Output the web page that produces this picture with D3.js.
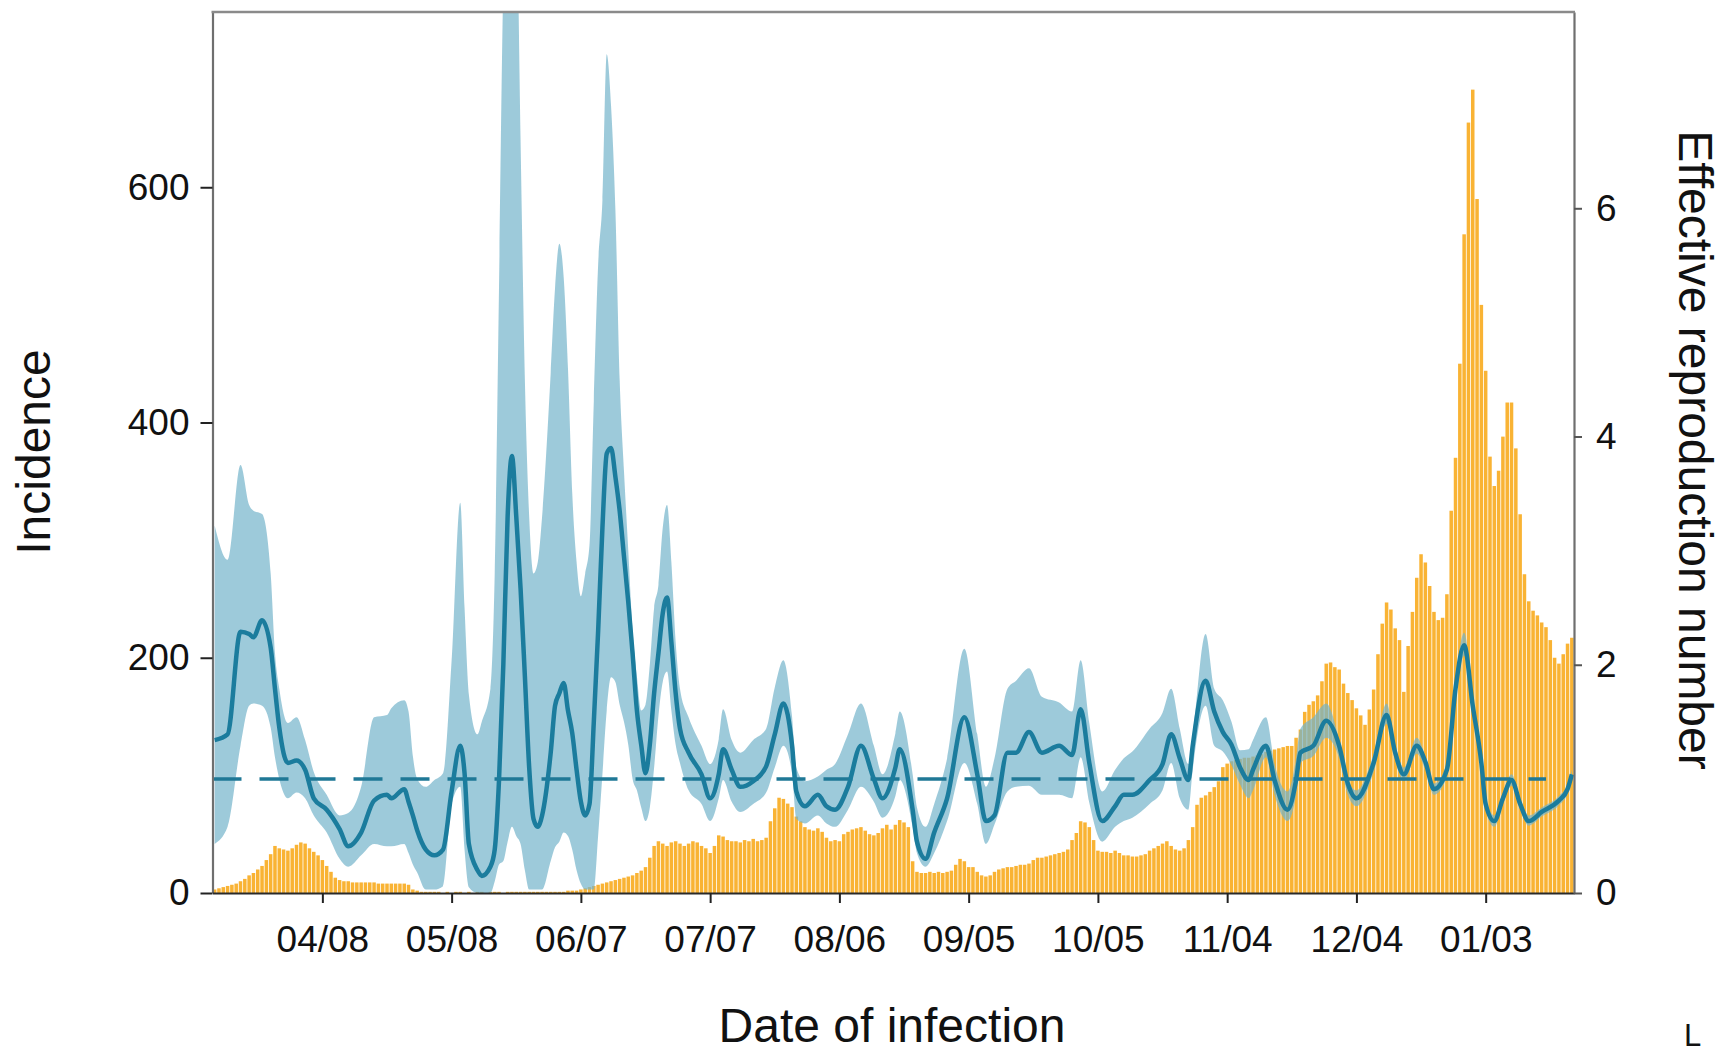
<!DOCTYPE html>
<html><head><meta charset="utf-8">
<script src="https://cdn.jsdelivr.net/npm/d3@7"></script>
<style>
html,body{margin:0;padding:0;background:#fff;}
svg{display:block;font-family:"Liberation Sans",Arial,Helvetica,sans-serif;}
</style></head><body>
<svg id="chart" width="1721" height="1055"></svg>
<script>
// ---------- data ----------
const startDate = "2020-03-14"; // first bar (day 0)
const incidence = [
 3,4,5,6,7,8,10,12,15,17,
 20,23,28,33,40,38,37,36,38,41,
 43,42,38,35,32,28,23,18,13,11,
 10,10,9,9,9,9,9,9,8,8,
 8,8,8,8,8,7,3,2,1,1,
 1,1,1,0,1,0,1,1,0,1,
 0,1,1,0,1,1,1,0,1,1,
 1,1,1,1,1,1,1,1,1,1,
 1,1,2,2,2,3,4,5,6,7,
 8,9,10,11,12,13,14,15,17,19,
 22,30,40,44,42,40,43,44,42,40,
 42,44,43,40,38,34,40,49,48,45,
 44,44,43,45,44,46,44,45,47,61,
 72,81,80,76,73,65,61,56,54,53,
 55,52,47,44,45,44,50,52,54,55,
 56,53,50,49,51,55,58,54,58,62,
 60,56,27,18,17,17,18,17,18,17,
 18,19,24,29,27,22,22,18,15,14,
 15,18,20,21,22,22,23,24,24,25,
 28,30,30,31,32,33,34,35,37,45,
 51,61,60,56,45,36,35,35,34,36,
 34,32,32,31,31,32,33,36,38,40,
 42,44,40,37,36,38,45,56,75,81,
 83,86,90,95,107,110,112,113,114,115,
 115,116,117,118,120,121,122,123,124,125,
 125,132,139,154,160,163,168,180,195,196,
 192,190,178,170,164,157,151,143,156,173,
 203,229,247,241,225,215,171,210,239,268,
 288,281,261,239,232,234,254,325,370,450,
 560,655,683,590,500,444,371,346,359,388,
 417,417,378,322,271,248,240,236,230,226,
 215,200,195,203,212,217
];
// effective reproduction number: day offsets from startDate, mean and 95% interval
const rDay  = [0,3,6,8,9,11,13,14,15,17,19,21,23,26,29,31,34,37,40,41,44,45,46,47,49,51,53,55,57,58,59,61,62,64,65,66,67,68,69,70,71,72,73,74,75,76,78,79,80,81,82,83,84,85,86,87,88,89,90,91,92,93,94,95,96,97,98,99,100,101,102,103,104,105,106,107,108,110,113,115,117,118,120,122,125,128,130,132,134,135,137,140,142,144,147,150,153,155,158,159,162,163,165,167,170,174,177,179,181,184,186,189,192,196,199,201,203,206,209,211,213,217,220,222,224,226,227,230,232,234,236,238,240,241,244,246,249,251,252,255,258,261,263,265,269,272,274,276,279,281,283,286,288,290,292,294,295,297,299,301,303,305,308,312,314,315];
const rMean = [1.34,1.39,2.29,2.27,2.24,2.39,2.15,1.79,1.45,1.14,1.16,1.08,0.83,0.73,0.56,0.41,0.53,0.81,0.86,0.83,0.91,0.80,0.68,0.55,0.38,0.33,0.38,0.89,1.29,1.05,0.43,0.20,0.15,0.23,0.38,0.99,2.0,3.3,3.83,3.30,2.67,1.9,1.1,0.65,0.58,0.68,1.23,1.64,1.75,1.84,1.60,1.40,1.08,0.80,0.68,0.78,1.5,2.29,3.2,3.85,3.90,3.65,3.35,2.95,2.55,2.1,1.6,1.30,1.05,1.3,1.75,2.1,2.45,2.59,2.2,1.75,1.44,1.23,1.04,0.83,1.04,1.26,1.08,0.93,0.98,1.11,1.39,1.66,1.30,0.89,0.76,0.86,0.76,0.73,0.93,1.29,1.00,0.83,1.10,1.26,0.73,0.45,0.30,0.53,0.83,1.54,1.04,0.63,0.68,1.23,1.23,1.41,1.23,1.29,1.21,1.61,1.14,0.63,0.76,0.86,0.86,0.99,1.13,1.39,1.18,0.99,1.29,1.86,1.59,1.41,1.30,1.10,0.99,1.08,1.29,0.99,0.73,0.99,1.23,1.29,1.51,1.29,0.96,0.83,1.14,1.56,1.23,1.04,1.29,1.15,0.91,1.08,1.79,2.17,1.64,1.14,0.78,0.63,0.83,0.99,0.78,0.63,0.71,0.81,0.91,1.04];
const rLow  = [0.43,0.58,1.29,1.64,1.66,1.64,1.45,1.19,1.0,0.83,0.88,0.83,0.68,0.53,0.30,0.23,0.33,0.43,0.41,0.41,0.43,0.35,0.25,0.18,0.03,0.03,0.06,0.78,0.93,0.38,0.05,0.0,0.0,0.0,0.10,0.25,0.28,0.45,0.58,0.50,0.43,0.20,0.03,0.03,0.03,0.03,0.28,0.40,0.45,0.53,0.50,0.38,0.20,0.08,0.03,0.03,0.03,0.5,1.04,1.6,1.89,1.85,1.65,1.5,1.3,1.0,0.9,0.75,0.63,0.75,1.1,1.55,1.85,1.94,1.6,1.3,1.14,0.9,0.78,0.63,0.83,0.99,0.80,0.71,0.78,0.88,1.10,1.29,1.05,0.65,0.61,0.68,0.61,0.58,0.73,0.93,0.80,0.66,0.85,0.99,0.58,0.35,0.23,0.35,0.63,1.14,0.78,0.43,0.60,0.89,0.93,0.94,0.86,0.86,0.83,1.19,0.79,0.45,0.58,0.63,0.66,0.78,0.90,1.14,0.83,0.73,1.08,1.64,1.29,1.24,1.12,0.95,0.83,0.90,1.19,0.86,0.63,0.86,1.14,1.20,1.36,1.18,0.86,0.76,1.06,1.48,1.16,0.98,1.22,1.08,0.86,1.02,1.71,2.08,1.57,1.08,0.73,0.58,0.78,0.94,0.73,0.59,0.67,0.77,0.87,1.00];
const rHigh = [3.22,2.92,3.75,3.40,3.35,3.32,2.80,2.10,1.79,1.49,1.54,1.34,1.06,0.86,0.68,0.70,0.93,1.54,1.56,1.62,1.69,1.59,1.20,1.00,0.93,0.99,1.05,2.04,3.42,2.50,1.74,1.39,1.50,1.79,2.80,5.31,8.0,9.0,10.0,9.0,6.6,4.5,3.3,2.80,2.9,3.30,4.56,5.3,5.69,5.4,4.6,3.5,2.9,2.6,2.8,3.05,4.31,5.5,6.07,7.35,6.9,6.0,4.5,3.7,3.0,2.3,1.9,1.6,1.65,2.0,2.5,2.7,3.2,3.4,2.9,2.2,1.79,1.54,1.29,1.13,1.35,1.61,1.34,1.23,1.34,1.44,1.80,2.04,1.55,1.10,0.98,1.02,1.08,1.13,1.39,1.66,1.29,1.04,1.40,1.59,1.04,0.75,0.58,0.78,1.18,2.14,1.39,0.93,1.18,1.79,1.86,1.97,1.72,1.67,1.59,2.04,1.49,0.89,1.08,1.18,1.24,1.44,1.58,1.79,1.44,1.13,1.39,2.27,1.79,1.69,1.50,1.25,1.26,1.34,1.54,1.13,0.89,1.18,1.44,1.54,1.66,1.34,1.00,0.90,1.22,1.66,1.30,1.10,1.36,1.20,0.96,1.14,1.87,2.28,1.72,1.20,0.83,0.68,0.88,1.04,0.83,0.68,0.75,0.85,0.95,1.08];
const xTickDates  = ["2020-04-08","2020-05-08","2020-06-07","2020-07-07","2020-08-06","2020-09-05","2020-10-05","2020-11-04","2020-12-04","2021-01-03"];
const xTickLabels = ["04/08","05/08","06/07","07/07","08/06","09/05","10/05","11/04","12/04","01/03"];
const incTicks = [0,200,400,600];
const rTicks = [0,2,4,6];
const rThreshold = 1;
const incMax = 749;
const rMax = 7.72;

// ---------- layout ----------
const L = 212.5, R = 1574, T = 12, B = 893;
const DAY = 864e5;
const t0 = new Date(startDate + "T00:00:00Z").getTime();
const dayDate = i => new Date(t0 + i * DAY);

const svg = d3.select("#chart");

const x = d3.scaleUtc()
  .domain([dayDate(-0.5), dayDate(incidence.length - 0.5)])
  .range([L, R]);
const yInc = d3.scaleLinear().domain([0, incMax]).range([B, T]);
const yR = d3.scaleLinear().domain([0, rMax]).range([B, T]);

svg.append("defs").append("clipPath").attr("id", "plotclip")
  .append("rect").attr("x", L).attr("y", T).attr("width", R - L).attr("height", B - T);

const plot = svg.append("g").attr("clip-path", "url(#plotclip)");

// bars
const step = x(dayDate(1)) - x(dayDate(0));
const bw = step - 0.8;
plot.append("g").selectAll("rect").data(incidence).join("rect")
  .attr("x", (d, i) => x(dayDate(i)) - bw / 2)
  .attr("y", d => yInc(d))
  .attr("width", bw)
  .attr("height", d => B - yInc(d))
  .attr("fill", "#F9B334");

// R band + line
const rData = rDay.map((d, i) => ({t: dayDate(d), m: rMean[i], lo: rLow[i], hi: rHigh[i]}));
const area = d3.area().curve(d3.curveMonotoneX)
  .x(d => x(d.t)).y0(d => yR(d.lo)).y1(d => yR(d.hi));
plot.append("path").datum(rData).attr("d", area)
  .attr("fill", "#74B4CA").attr("fill-opacity", 0.7);

plot.append("line")
  .attr("x1", L).attr("x2", x(dayDate(309)))
  .attr("y1", yR(rThreshold)).attr("y2", yR(rThreshold))
  .attr("stroke", "#1F7896").attr("stroke-width", 3.5)
  .attr("stroke-dasharray", "29,18");

const line = d3.line().curve(d3.curveMonotoneX).x(d => x(d.t)).y(d => yR(d.m));
plot.append("path").datum(rData).attr("d", line)
  .attr("fill", "none").attr("stroke", "#1B7C9D").attr("stroke-width", 4.5)
  .attr("stroke-linejoin", "round");

// ---------- axes ----------
const gL = svg.append("g").attr("transform", `translate(${L},0)`)
  .call(d3.axisLeft(yInc).tickValues(incTicks).tickSize(12).tickSizeOuter(0).tickPadding(11));
gL.select(".domain").attr("stroke", "#6f6f6f").attr("stroke-width", 2.2);
gL.selectAll(".tick line").attr("stroke", "#222").attr("stroke-width", 2);
gL.selectAll(".tick text").attr("font-size", 37).attr("fill", "#111")
  .attr("font-family", '"Liberation Sans",Arial,sans-serif');

const gB = svg.append("g").attr("transform", `translate(0,${B})`)
  .call(d3.axisBottom(x).tickValues(xTickDates.map(s => new Date(s + "T00:00:00Z")))
    .tickFormat((d, i) => xTickLabels[i]).tickSize(10).tickSizeOuter(0).tickPadding(23));
gB.select(".domain").attr("stroke", "#2a2a2a").attr("stroke-width", 2.2);
gB.selectAll(".tick line").attr("stroke", "#222").attr("stroke-width", 2);
gB.selectAll(".tick text").attr("font-size", 37).attr("fill", "#111")
  .attr("font-family", '"Liberation Sans",Arial,sans-serif');

const gR = svg.append("g").attr("transform", `translate(${R},0)`)
  .call(d3.axisRight(yR).tickValues(rTicks).tickSize(8).tickSizeOuter(0).tickPadding(14));
gR.select(".domain").attr("stroke", "#6f6f6f").attr("stroke-width", 2.2);
gR.selectAll(".tick line").attr("stroke", "#555").attr("stroke-width", 2);
gR.selectAll(".tick text").attr("font-size", 37).attr("fill", "#111")
  .attr("font-family", '"Liberation Sans",Arial,sans-serif');

// top border
svg.append("line").attr("x1", L - 1).attr("x2", R + 1).attr("y1", T).attr("y2", T)
  .attr("stroke", "#8a8a8a").attr("stroke-width", 2.5);

// titles
svg.append("text").attr("transform", "translate(50,452) rotate(-90)")
  .attr("text-anchor", "middle").attr("font-size", 48).attr("fill", "#111")
  .text("Incidence");
svg.append("text").attr("transform", "translate(1679,450) rotate(90)")
  .attr("text-anchor", "middle").attr("font-size", 48).attr("fill", "#111")
  .text("Effective reproduction number");
svg.append("text").attr("x", 892).attr("y", 1042)
  .attr("text-anchor", "middle").attr("font-size", 48).attr("fill", "#111")
  .text("Date of infection");
svg.append("text").attr("x", 1684).attr("y", 1046)
  .attr("font-size", 31).attr("fill", "#111").text("L");
</script>
</body></html>
